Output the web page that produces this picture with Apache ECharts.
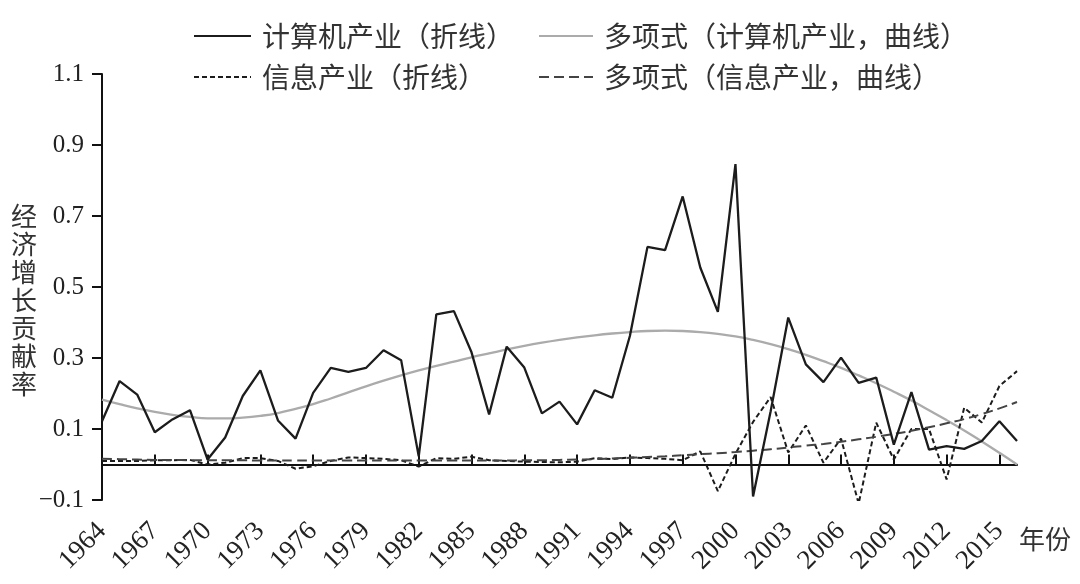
<!DOCTYPE html>
<html>
<head>
<meta charset="utf-8">
<script src="https://cdn.jsdelivr.net/npm/echarts@6/dist/echarts.min.js"></script>
<style>
html,body{margin:0;padding:0;background:#fff;}
#chart{width:1080px;height:584px;}
</style>
</head>
<body>
<div id="chart"></div>
<script>
const years = ['1964','1965','1966','1967','1968','1969','1970','1971','1972','1973',
  '1974','1975','1976','1977','1978','1979','1980','1981','1982','1983',
  '1984','1985','1986','1987','1988','1989','1990','1991','1992','1993',
  '1994','1995','1996','1997','1998','1999','2000','2001','2002','2003',
  '2004','2005','2006','2007','2008','2009','2010','2011','2012','2013',
  '2014','2015','2016'];

const yTicks = [-0.1, 0.1, 0.3, 0.5, 0.7, 0.9, 1.1];

const computer = [0.122,0.235,0.197,0.091,0.127,0.153,0.014,0.076,0.193,0.265,
  0.124,0.073,0.202,0.272,0.261,0.272,0.322,0.294,0.023,0.423,
  0.432,0.316,0.141,0.332,0.273,0.144,0.177,0.113,0.209,0.188,
  0.362,0.613,0.604,0.755,0.555,0.430,0.846,-0.090,0.150,0.414,
  0.282,0.232,0.301,0.230,0.245,0.056,0.204,0.042,0.052,0.044,
  0.066,0.122,0.066];

const info = [0.010,0.010,0.010,0.012,0.012,0.013,0.000,0.005,0.018,0.018,
  0.010,-0.012,-0.005,0.010,0.020,0.018,0.016,0.012,-0.006,0.018,
  0.016,0.022,0.012,0.010,0.008,0.007,0.006,0.008,0.018,0.015,
  0.020,0.018,0.016,0.012,0.037,-0.075,0.030,0.120,0.190,0.034,
  0.110,0.005,0.073,-0.110,0.118,0.014,0.100,0.100,-0.042,0.160,
  0.118,0.221,0.263];

const computerPoly = [0.183,0.170,0.158,0.148,0.140,0.134,0.130,0.130,0.132,0.137,
  0.145,0.157,0.170,0.186,0.203,0.220,0.236,0.251,0.265,0.278,
  0.290,0.302,0.313,0.324,0.334,0.343,0.351,0.358,0.364,0.369,
  0.373,0.376,0.377,0.376,0.373,0.368,0.361,0.351,0.339,0.325,
  0.309,0.291,0.272,0.251,0.229,0.205,0.180,0.153,0.125,0.096,
  0.065,0.033,0.000];

const infoPoly = [0.016,0.015,0.014,0.013,0.013,0.012,0.012,0.012,0.012,0.011,
  0.011,0.011,0.011,0.011,0.011,0.011,0.011,0.011,0.011,0.011,
  0.011,0.011,0.011,0.011,0.012,0.012,0.013,0.014,0.015,0.017,
  0.019,0.021,0.023,0.026,0.029,0.032,0.035,0.039,0.043,0.048,
  0.053,0.058,0.064,0.071,0.078,0.086,0.095,0.105,0.116,0.128,
  0.142,0.158,0.176];

const names = ['计算机产业（折线）','多项式（计算机产业，曲线）','信息产业（折线）','多项式（信息产业，曲线）'];
const yName = '经济增长贡献率';
const xName = '年份';

const serif = '"Liberation Serif", "DejaVu Serif", serif';
const cjk = '"Noto Sans CJK SC", sans-serif';

function legendAt(name, left, top, w) {
  return {
    data: [name], left: left, top: top, padding: 0,
    itemWidth: w, itemHeight: 14,
    itemStyle: {opacity: 0},
    textStyle: {fontFamily: cjk, fontSize: 28, color: '#333', padding: [0,0,0,6]}
  };
}

const chart = echarts.init(document.getElementById('chart'), null, {renderer: 'canvas'});
chart.setOption({
  animation: false,
  backgroundColor: '#fff',
  legend: [
    legendAt(names[0], 193, 22, 57),
    legendAt(names[1], 538, 22, 54),
    legendAt(names[2], 193, 63, 57),
    legendAt(names[3], 538, 63, 54)
  ],
  grid: {left: 102, right: 63, top: 74, bottom: 84, containLabel: false},
  graphic: [
    {type: 'text', left: 11, top: 202, style: {text: yName.split('').join('\n'), font: '26px ' + cjk, lineHeight: 28, fill: '#333'}},
    {type: 'text', left: 1019, top: 526, style: {text: xName, font: '26px ' + cjk, fill: '#333'}}
  ],
  xAxis: {
    type: 'category', data: years, boundaryGap: false,
    axisLine: {onZero: true, lineStyle: {color: '#111', width: 2}},
    axisTick: {inside: true, length: 10, interval: 2, lineStyle: {color: '#111', width: 2}},
    axisLabel: {interval: 2, rotate: 45, margin: 27, fontFamily: serif, fontSize: 27, color: '#222'},
    splitLine: {show: false}
  },
  yAxis: {
    type: 'value', min: yTicks[0], max: yTicks[yTicks.length - 1], interval: 0.2,
    axisLine: {show: true, onZero: false, lineStyle: {color: '#111', width: 2}},
    axisTick: {show: true, length: 10, lineStyle: {color: '#111', width: 2}},
    axisLabel: {margin: 18, fontFamily: serif, fontSize: 25, color: '#222',
      formatter: v => (Math.round(v * 10) / 10).toFixed(1).replace('-', '−')},
    splitLine: {show: false}
  },
  series: [
    {name: names[0], type: 'line', data: computer, symbol: 'none', z: 5,
      lineStyle: {color: '#1c1c1c', width: 2.3}, itemStyle: {color: '#1c1c1c'}},
    {name: names[1], type: 'line', data: computerPoly, symbol: 'none', smooth: true, z: 3,
      lineStyle: {color: '#ababab', width: 2.3}, itemStyle: {color: '#ababab'}},
    {name: names[2], type: 'line', data: info, symbol: 'none', z: 4,
      lineStyle: {color: '#1c1c1c', width: 2, type: [5, 3]}, itemStyle: {color: '#1c1c1c'}},
    {name: names[3], type: 'line', data: infoPoly, symbol: 'none', smooth: true, z: 4,
      lineStyle: {color: '#444', width: 2, type: [10, 5]}, itemStyle: {color: '#444'}}
  ]
});
</script>
</body>
</html>
